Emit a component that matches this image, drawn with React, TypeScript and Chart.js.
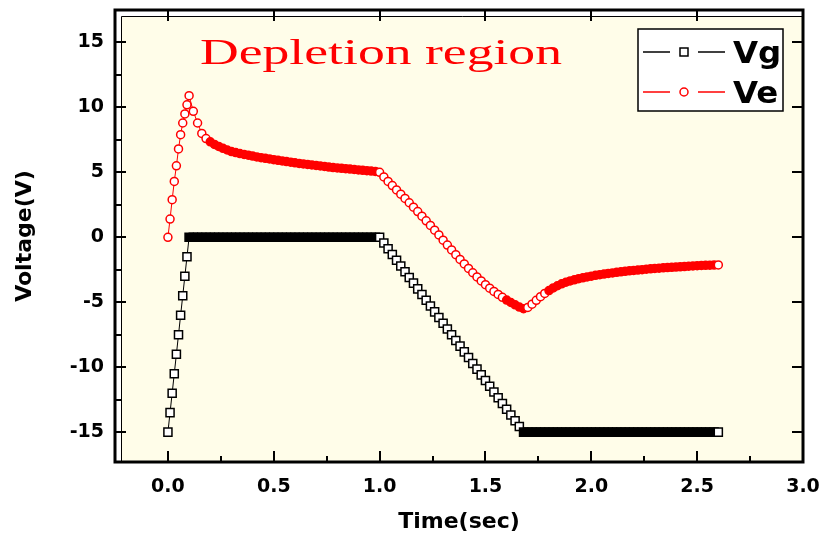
import React, { useEffect, useRef } from 'react';
import { Chart, registerables } from 'chart.js';

Chart.register(...registerables);

// ---- data (time in seconds, voltages in volts) ----
const times = [
  0, 0.01, 0.02, 0.03, 0.04, 0.05, 0.06, 0.07, 0.08, 0.09, 0.1,
  0.12, 0.14, 0.16, 0.18, 0.2, 0.22, 0.24, 0.26, 0.28, 0.3,
  0.32, 0.34, 0.36, 0.38, 0.4, 0.42, 0.44, 0.46, 0.48, 0.5,
  0.52, 0.54, 0.56, 0.58, 0.6, 0.62, 0.64, 0.66, 0.68, 0.7,
  0.72, 0.74, 0.76, 0.78, 0.8, 0.82, 0.84, 0.86, 0.88, 0.9,
  0.92, 0.94, 0.96, 0.98, 1.0,
  1.02, 1.04, 1.06, 1.08, 1.1, 1.12, 1.14, 1.16, 1.18, 1.2,
  1.22, 1.24, 1.26, 1.28, 1.3, 1.32, 1.34, 1.36, 1.38, 1.4,
  1.42, 1.44, 1.46, 1.48, 1.5, 1.52, 1.54, 1.56, 1.58, 1.6,
  1.62, 1.64, 1.66, 1.68,
  1.7, 1.72, 1.74, 1.76, 1.78, 1.8, 1.82, 1.84, 1.86, 1.88,
  1.9, 1.92, 1.94, 1.96, 1.98, 2.0, 2.02, 2.04, 2.06, 2.08,
  2.1, 2.12, 2.14, 2.16, 2.18, 2.2, 2.22, 2.24, 2.26, 2.28,
  2.3, 2.32, 2.34, 2.36, 2.38, 2.4, 2.42, 2.44, 2.46, 2.48,
  2.5, 2.52, 2.54, 2.56, 2.58, 2.6,
];

const vgValues = [
  -15, -13.5, -12, -10.5, -9, -7.5, -6, -4.5, -3, -1.5, 0,
  0, 0, 0, 0, 0, 0, 0, 0, 0, 0,
  0, 0, 0, 0, 0, 0, 0, 0, 0, 0,
  0, 0, 0, 0, 0, 0, 0, 0, 0, 0,
  0, 0, 0, 0, 0, 0, 0, 0, 0, 0,
  0, 0, 0, 0, 0,
  -0.44, -0.88, -1.32, -1.76, -2.21, -2.65, -3.09, -3.53, -3.97, -4.41,
  -4.85, -5.29, -5.74, -6.18, -6.62, -7.06, -7.5, -7.94, -8.38, -8.82,
  -9.26, -9.71, -10.15, -10.59, -11.03, -11.47, -11.91, -12.35, -12.79, -13.24,
  -13.68, -14.12, -14.56, -15,
  -15, -15, -15, -15, -15, -15, -15, -15, -15, -15,
  -15, -15, -15, -15, -15, -15, -15, -15, -15, -15,
  -15, -15, -15, -15, -15, -15, -15, -15, -15, -15,
  -15, -15, -15, -15, -15, -15, -15, -15, -15, -15,
  -15, -15, -15, -15, -15, -15,
];

const veValues = [
  0, 1.4, 2.9, 4.3, 5.5, 6.8, 7.9, 8.8, 9.5, 10.2, 10.9,
  9.7, 8.8, 8.0, 7.6, 7.35, 7.15, 7.0, 6.85, 6.72, 6.6,
  6.52, 6.45, 6.38, 6.32, 6.25, 6.19, 6.13, 6.08, 6.03, 5.98,
  5.93, 5.88, 5.83, 5.78, 5.73, 5.69, 5.65, 5.61, 5.57, 5.53,
  5.49, 5.45, 5.41, 5.37, 5.34, 5.31, 5.28, 5.25, 5.22, 5.19,
  5.16, 5.13, 5.1, 5.07, 5.0,
  4.65, 4.3, 3.98, 3.65, 3.32, 2.99, 2.66, 2.32, 1.98, 1.63,
  1.27, 0.91, 0.55, 0.18, -0.22, -0.6, -0.97, -1.34, -1.7, -2.05,
  -2.4, -2.73, -3.05, -3.36, -3.65, -3.92, -4.17, -4.4, -4.62, -4.83,
  -5.02, -5.2, -5.37, -5.5,
  -5.4, -5.15, -4.85, -4.57, -4.32, -4.1, -3.9, -3.73, -3.58, -3.46,
  -3.36, -3.27, -3.19, -3.12, -3.05, -2.99, -2.93, -2.88, -2.83, -2.78,
  -2.74, -2.7, -2.66, -2.62, -2.58, -2.55, -2.52, -2.49, -2.46, -2.43,
  -2.4, -2.38, -2.35, -2.33, -2.31, -2.29, -2.27, -2.25, -2.23, -2.21,
  -2.19, -2.17, -2.16, -2.15, -2.14, -2.13,
];

const seriesLabels = ['Vg', 'Ve'];
const xTitle = 'Time(sec)';
const yTitle = 'Voltage(V)';
const annotation = 'Depletion region';
const xRange = [-0.25, 3.0];
const yRange = [-17.3, 17.5];
const xStep = 0.5;
const yStep = 5;

// ---- styles ----
const PLOT_BG = '#FFFDE9';
const VG_COLOR = '#000000';
const VE_COLOR = '#FF0000';
const TICK_FONT = { family: 'DejaVu Sans', size: 19, weight: 'bold' as const };
const TITLE_FONT = { family: 'DejaVu Sans', size: 22, weight: 'bold' as const };

function markerFill(color: string) {
  return (ctx: any) => {
    if (ctx.type !== 'data') return '#ffffff';
    const chart = ctx.chart;
    const i = ctx.dataIndex;
    const data = ctx.dataset.data;
    const xs = chart.scales.x;
    const ys = chart.scales.y;
    if (!xs || !ys || i >= data.length - 1) return '#ffffff';
    const p = data[i];
    const q = data[i + 1];
    const d = Math.hypot(
      xs.getPixelForValue(q.x) - xs.getPixelForValue(p.x),
      ys.getPixelForValue(q.y) - ys.getPixelForValue(p.y)
    );
    return d < 5 ? color : '#ffffff';
  };
}

function drawStretched(ctx: CanvasRenderingContext2D, text: string, x: number, y: number, sx: number) {
  ctx.save();
  ctx.translate(x, y);
  ctx.scale(sx, 1);
  ctx.fillText(text, 0, 0);
  ctx.restore();
}

const decorPlugin = {
  id: 'decor',
  beforeDraw(chart: any) {
    const { ctx, chartArea: a } = chart;
    ctx.save();
    ctx.fillStyle = '#ffffff';
    ctx.fillRect(0, 0, chart.width, chart.height);
    ctx.fillStyle = PLOT_BG;
    ctx.fillRect(a.left + 6, a.top + 6, a.right - a.left - 6, a.bottom - a.top - 6);
    ctx.restore();
  },
  afterDraw(chart: any) {
    const { ctx, chartArea: a } = chart;
    const xs = chart.scales.x;
    const ys = chart.scales.y;
    ctx.save();
    // inner shadow lines
    ctx.strokeStyle = '#000';
    ctx.lineWidth = 1;
    ctx.beginPath();
    ctx.moveTo(a.left + 6.5, a.bottom);
    ctx.lineTo(a.left + 6.5, a.top + 6.5);
    ctx.lineTo(a.right, a.top + 6.5);
    ctx.stroke();
    // outer frame
    ctx.lineWidth = 3;
    ctx.strokeRect(a.left, a.top, a.right - a.left, a.bottom - a.top);

    // ticks
    ctx.lineWidth = 2;
    const line = (x1: number, y1: number, x2: number, y2: number) => {
      ctx.beginPath();
      ctx.moveTo(x1, y1);
      ctx.lineTo(x2, y2);
      ctx.stroke();
    };
    const xt = xs.ticks.map((t: any) => t.value);
    const yt = ys.ticks.map((t: any) => t.value);
    xt.forEach((v: number) => {
      const px = Math.round(xs.getPixelForValue(v));
      line(px, a.bottom, px, a.bottom - 11);
      line(px, a.top, px, a.top + 11);
    });
    for (let i = 0; i < xt.length - 1; i++) {
      const px = Math.round(xs.getPixelForValue((xt[i] + xt[i + 1]) / 2));
      line(px, a.bottom, px, a.bottom - 6);
    }
    yt.forEach((v: number) => {
      const py = Math.round(ys.getPixelForValue(v));
      line(a.left, py, a.left + 11, py);
      line(a.right, py, a.right - 11, py);
    });
    for (let i = 0; i < yt.length - 1; i++) {
      const py = Math.round(ys.getPixelForValue((yt[i] + yt[i + 1]) / 2));
      line(a.left, py, a.left + 6, py);
    }

    // annotation text
    ctx.fillStyle = '#FF0000';
    ctx.font = '35px "Liberation Serif"';
    ctx.textBaseline = 'alphabetic';
    ctx.textAlign = 'left';
    const w = ctx.measureText(annotation).width;
    drawStretched(ctx, annotation, 200, 64, 362 / w);

    // legend
    const lx = 638, ly = 29, lw = 145, lh = 82;
    ctx.fillStyle = '#ffffff';
    ctx.fillRect(lx, ly, lw, lh);
    ctx.strokeStyle = '#000';
    ctx.lineWidth = 1.5;
    ctx.strokeRect(lx, ly, lw, lh);
    const rows = [
      { label: seriesLabels[0], color: VG_COLOR, style: 'rect', y: 52 },
      { label: seriesLabels[1], color: VE_COLOR, style: 'circle', y: 92 },
    ];
    rows.forEach((r) => {
      ctx.strokeStyle = r.color;
      ctx.lineWidth = 1.5;
      line(643, r.y, 670, r.y);
      line(698, r.y, 725, r.y);
      ctx.fillStyle = '#fff';
      ctx.beginPath();
      if (r.style === 'rect') ctx.rect(680, r.y - 4, 8, 8);
      else ctx.arc(684, r.y, 4, 0, Math.PI * 2);
      ctx.fill();
      ctx.stroke();
      ctx.fillStyle = '#000';
      ctx.font = 'bold 30px "DejaVu Sans"';
      drawStretched(ctx, r.label, 733, r.y + 11, 1.08);
    });
    ctx.restore();
  },
};

export default function App() {
  const ref = useRef<HTMLCanvasElement>(null);
  useEffect(() => {
    const vgData = times.map((t, i) => ({ x: t, y: vgValues[i] }));
    const veData = times.map((t, i) => ({ x: t, y: veValues[i] }));
    const chart = new Chart(ref.current as HTMLCanvasElement, {
      type: 'line',
      data: {
        datasets: [
          {
            label: seriesLabels[0],
            data: vgData,
            borderColor: VG_COLOR,
            borderWidth: 1,
            pointStyle: 'rect',
            pointRadius: 5.7,
            pointBorderWidth: 1.5,
            pointBorderColor: VG_COLOR,
            pointBackgroundColor: markerFill(VG_COLOR),
            tension: 0,
          },
          {
            label: seriesLabels[1],
            data: veData,
            borderColor: VE_COLOR,
            borderWidth: 1,
            pointStyle: 'circle',
            pointRadius: 4,
            pointBorderWidth: 1.5,
            pointBorderColor: VE_COLOR,
            pointBackgroundColor: markerFill(VE_COLOR),
            tension: 0,
          },
        ],
      },
      options: {
        animation: false,
        responsive: false,
        devicePixelRatio: 1,
        layout: { padding: { top: 10, right: 26, left: 0, bottom: 0 } },
        plugins: { legend: { display: false }, tooltip: { enabled: false } },
        scales: {
          x: {
            type: 'linear',
            min: xRange[0],
            max: xRange[1],
            afterFit: (s: any) => {
              s.height = 81;
              s.paddingLeft = 0;
              s.paddingRight = 0;
            },
            grid: { display: false, drawTicks: false },
            border: { display: false },
            ticks: {
              stepSize: xStep,
              includeBounds: false,
              autoSkip: false,
              maxRotation: 0,
              padding: 14,
              color: '#000',
              font: TICK_FONT,
              callback: (v: any) => Number(v).toFixed(1),
            },
            title: {
              display: true,
              text: xTitle,
              color: '#000',
              font: TITLE_FONT,
              padding: { top: 0, bottom: 8 },
            },
          },
          y: {
            type: 'linear',
            min: yRange[0],
            max: yRange[1],
            afterFit: (s: any) => {
              s.width = 115;
              s.paddingTop = 0;
              s.paddingBottom = 0;
            },
            grid: { display: false, drawTicks: false },
            border: { display: false },
            ticks: {
              stepSize: yStep,
              includeBounds: false,
              autoSkip: false,
              padding: 11,
              color: '#000',
              font: TICK_FONT,
              callback: (v: any) => String(Math.round(Number(v))),
            },
            title: {
              display: true,
              text: yTitle,
              color: '#000',
              font: TITLE_FONT,
              padding: { top: 12, bottom: 0 },
            },
          },
        },
      },
      plugins: [decorPlugin],
    } as any);
    return () => chart.destroy();
  }, []);
  return (
    <div style={{ position: 'fixed', left: 0, top: 0, width: 829, height: 543, background: '#fff' }}>
      <canvas ref={ref} width={829} height={543} style={{ display: 'block', width: 829, height: 543 }} />
    </div>
  );
}
